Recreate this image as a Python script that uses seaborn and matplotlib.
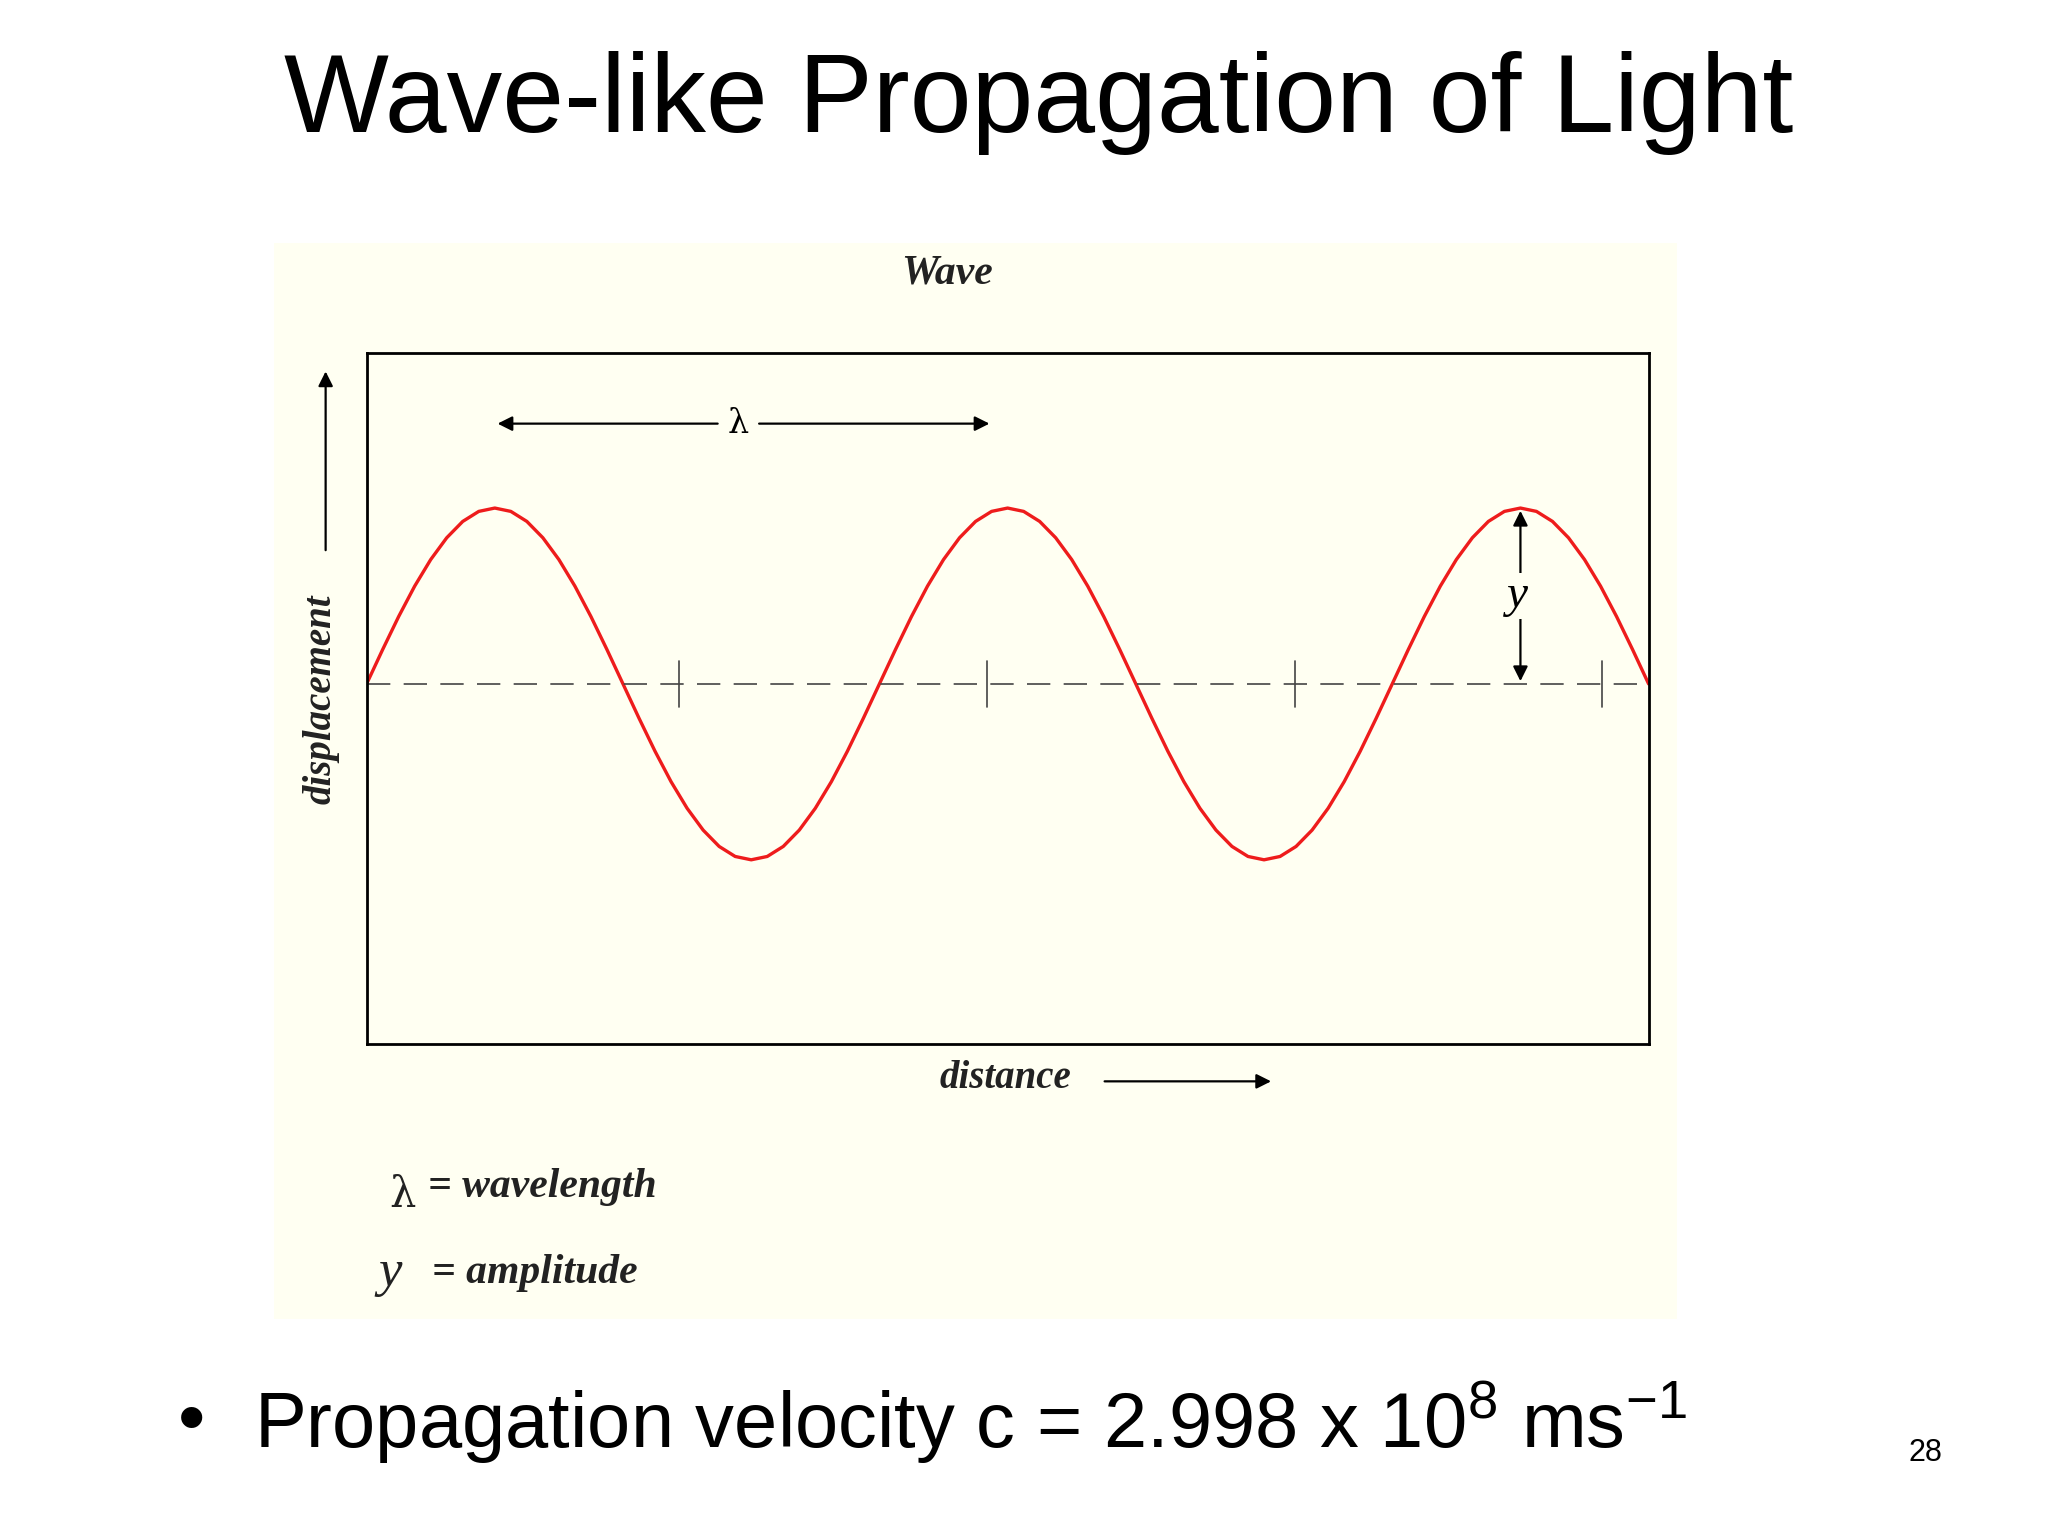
import matplotlib
matplotlib.use("Agg")
import matplotlib.pyplot as plt
import seaborn as sns
import pandas as pd

sns.set_style("white")
plt.rcParams['font.family'] = ['Liberation Sans', 'DejaVu Sans']
plt.rcParams['mathtext.default'] = 'regular'
plt.rcParams['text.color'] = 'black'

# Wave samples (distance in wavelengths, displacement in amplitudes)
quarter = [0.0, 0.195, 0.383, 0.556, 0.707, 0.831, 0.924, 0.981, 1.0,
           0.981, 0.924, 0.831, 0.707, 0.556, 0.383, 0.195]
distance = [i / 32 for i in range(81)]
displacement = (quarter + [-v for v in quarter]) * 2 + quarter + [-v for v in quarter[:1]]
displacement = displacement[:81]
tick_marks = [0.61, 1.21, 1.81, 2.41]

title = "Wave-like Propagation of Light"
panel_title = "Wave"
bullet = r"Propagation velocity c = 2.998 x 10$^{8}$ ms$^{-1}$"

df = pd.DataFrame({"distance": distance, "displacement": displacement})

fig = plt.figure(figsize=(20.48, 15.36), dpi=100)
fig.patch.set_facecolor("white")

bg = fig.add_axes([0.134, 0.141, 0.685, 0.701])
bg.set_facecolor("#fffff2")
bg.set_xticks([]); bg.set_yticks([])
for s in bg.spines.values():
    s.set_visible(False)

ax = fig.add_axes([0.179, 0.320, 0.626, 0.450])
ax.set_facecolor("#fffff2")
sns.lineplot(data=df, x="distance", y="displacement", ax=ax, color="#ee1c1c", lw=2.4)
ax.axhline(0, color="#444444", lw=1.2, dashes=(14, 8))
for t in tick_marks:
    ax.plot([t, t], [-0.13, 0.13], color="#444444", lw=1.2)
ax.set_xlim(0, 2.5)
ax.set_ylim(-2.05, 1.88)
ax.set_xticks([]); ax.set_yticks([])
ax.set_xlabel(""); ax.set_ylabel("")
for s in ax.spines.values():
    s.set_visible(True); s.set_color("black"); s.set_linewidth(2)

arr = dict(arrowstyle="-|>", color="black", lw=1.6, mutation_scale=22)
ax.annotate("", xy=(0.25, 1.48), xytext=(0.69, 1.48), arrowprops=arr)
ax.annotate("", xy=(1.22, 1.48), xytext=(0.76, 1.48), arrowprops=arr)
ax.text(0.725, 1.48, "λ", ha="center", va="center", fontsize=24, family="DejaVu Serif")
ax.annotate("", xy=(2.25, 1.0), xytext=(2.25, 0.5), arrowprops=arr)
ax.annotate("", xy=(2.25, 0.0), xytext=(2.25, 0.5), arrowprops=arr)
ax.text(2.245, 0.5, "y", ha="center", va="center", fontsize=34, style="italic",
        family="Liberation Serif", bbox=dict(fc="#fffff2", ec="none", pad=1))

serif = dict(family="Liberation Serif", weight="bold", style="italic", color="#222222")
fig.text(0.4625, 0.822, panel_title, ha="center", va="center", fontsize=30, **serif)
fig.text(0.157, 0.545, "displacement", ha="center", va="center", rotation=90, fontsize=28, **serif)
fig.text(0.491, 0.298, "distance", ha="center", va="center", fontsize=28, **serif)
fig.add_artist(matplotlib.patches.FancyArrowPatch((0.538, 0.296), (0.622, 0.296),
               transform=fig.transFigure, **arr))
fig.add_artist(matplotlib.patches.FancyArrowPatch((0.159, 0.64), (0.159, 0.76),
               transform=fig.transFigure, **arr))
fig.text(0.19, 0.222, "λ", ha="left", va="center", fontsize=30, family="DejaVu Serif", color="#222222")
fig.text(0.209, 0.227, "= wavelength", ha="left", va="center", fontsize=30, **serif)
fig.text(0.185, 0.171, "y", ha="left", va="center", fontsize=38, family="Liberation Serif",
         style="italic", color="#222222")
fig.text(0.211, 0.171, "= amplitude", ha="left", va="center", fontsize=30, **serif)

fig.text(0.507, 0.933, title, ha="center", va="center", fontsize=80, color="black")
fig.text(0.087, 0.074, "•", ha="left", va="center", fontsize=56, color="black")
fig.text(0.124, 0.074, bullet, ha="left", va="center", fontsize=56, color="black")
fig.text(0.94, 0.054, "28", ha="center", va="center", fontsize=22, color="black")

fig.savefig("out.png", dpi=100, facecolor="white")
